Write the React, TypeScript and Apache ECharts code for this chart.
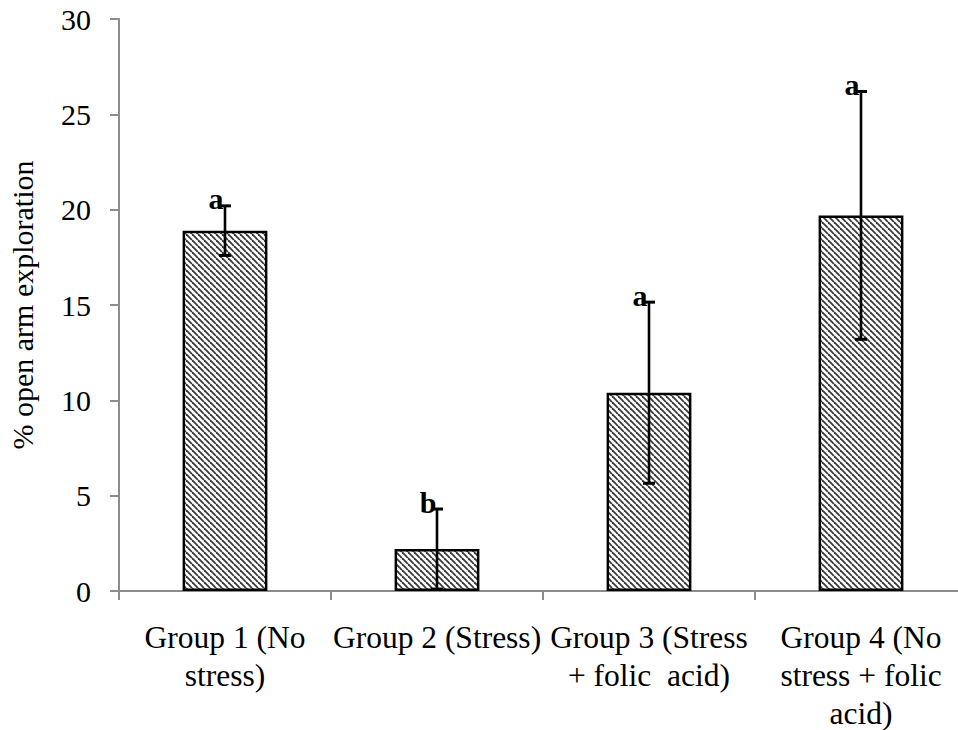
import React, { useEffect, useRef } from "react";
import * as echarts from "echarts";

const categories = [
  "Group 1 (No\nstress)",
  "Group 2 (Stress)",
  "Group 3 (Stress\n+ folic  acid)",
  "Group 4 (No\nstress + folic\nacid)",
];
const means = [18.9, 2.2, 10.4, 19.7];
const errors = [1.3, 2.1, 4.75, 6.5];
const letters = ["a", "b", "a", "a"];
const yTicks = { min: 0, max: 30, interval: 5 };

const FONT = '"Liberation Serif", "Times New Roman", serif';

function makeHatch(): HTMLCanvasElement {
  const s = 6;
  const c = document.createElement("canvas");
  c.width = s;
  c.height = s;
  const ctx = c.getContext("2d")!;
  ctx.fillStyle = "#ffffff";
  ctx.fillRect(0, 0, s, s);
  ctx.strokeStyle = "#3a3a3a";
  ctx.lineWidth = 1.8;
  for (const k of [-s, 0, s]) {
    ctx.beginPath();
    ctx.moveTo(k, 0);
    ctx.lineTo(k + s, s);
    ctx.stroke();
  }
  return c;
}

export default function App() {
  const ref = useRef<HTMLDivElement>(null);
  useEffect(() => {
    if (!ref.current) return;
    const chart = echarts.init(ref.current, undefined, { renderer: "svg" });
    const hatch = makeHatch();
    const errData = means.map((m, i) => [i, m - errors[i], m + errors[i]]);
    chart.setOption({
      animation: false,
      grid: {
        left: 119,
        right: -9,
        top: 19,
        bottom: 139,
        containLabel: false,
        outerBoundsMode: "none",
      },
      xAxis: {
        type: "category",
        data: categories,
        axisLine: { show: true, lineStyle: { color: "#8c8c8c", width: 2 } },
        axisTick: { show: true, length: 9, lineStyle: { color: "#8c8c8c", width: 2 } },
        axisLabel: {
          interval: 0,
          hideOverlap: false,
          margin: 27,
          color: "#000",
          fontFamily: FONT,
          fontSize: 31.5,
          lineHeight: 38,
        },
      },
      yAxis: {
        type: "value",
        min: yTicks.min,
        max: yTicks.max,
        interval: yTicks.interval,
        name: "% open arm exploration",
        nameLocation: "middle",
        nameGap: 82,
        nameTextStyle: { color: "#000", fontFamily: FONT, fontSize: 30 },
        axisLine: { show: true, lineStyle: { color: "#8c8c8c", width: 2 } },
        axisTick: { show: true, length: 9, lineStyle: { color: "#8c8c8c", width: 2 } },
        splitLine: { show: false },
        axisLabel: { color: "#000", fontFamily: FONT, fontSize: 30, margin: 28 },
      },
      series: [
        {
          type: "bar",
          data: means,
          barWidth: "40%",
          itemStyle: {
            color: { image: hatch, repeat: "repeat" },
            borderColor: "#000",
            borderWidth: 2.5,
          },
        },
        {
          type: "custom",
          data: errData,
          encode: { x: 0, y: [1, 2] },
          z: 10,
          renderItem: (params: any, api: any) => {
            const i = api.value(0);
            const top = api.coord([i, api.value(2)]);
            const bot = api.coord([i, api.value(1)]);
            const cx = top[0];
            const hw = 6;
            const st = { stroke: "#000", lineWidth: 2.6 };
            return {
              type: "group",
              children: [
                { type: "line", shape: { x1: cx, y1: top[1], x2: cx, y2: bot[1] }, style: st },
                { type: "line", shape: { x1: cx - hw, y1: top[1], x2: cx + hw, y2: top[1] }, style: { stroke: "#000", lineWidth: 3 } },
                { type: "line", shape: { x1: cx - hw, y1: bot[1], x2: cx + hw, y2: bot[1] }, style: { stroke: "#000", lineWidth: 3 } },
                {
                  type: "text",
                  x: cx - 9,
                  y: top[1] + 8,
                  style: {
                    text: letters[params.dataIndex],
                    fill: "#000",
                    font: `bold 30px ${FONT}`,
                    textAlign: "center",
                    textVerticalAlign: "bottom",
                  },
                },
              ],
            };
          },
        },
      ],
    });
    return () => chart.dispose();
  }, []);
  return (
    <div
      ref={ref}
      style={{ position: "absolute", left: 0, top: 0, width: 958, height: 730 }}
    />
  );
}
